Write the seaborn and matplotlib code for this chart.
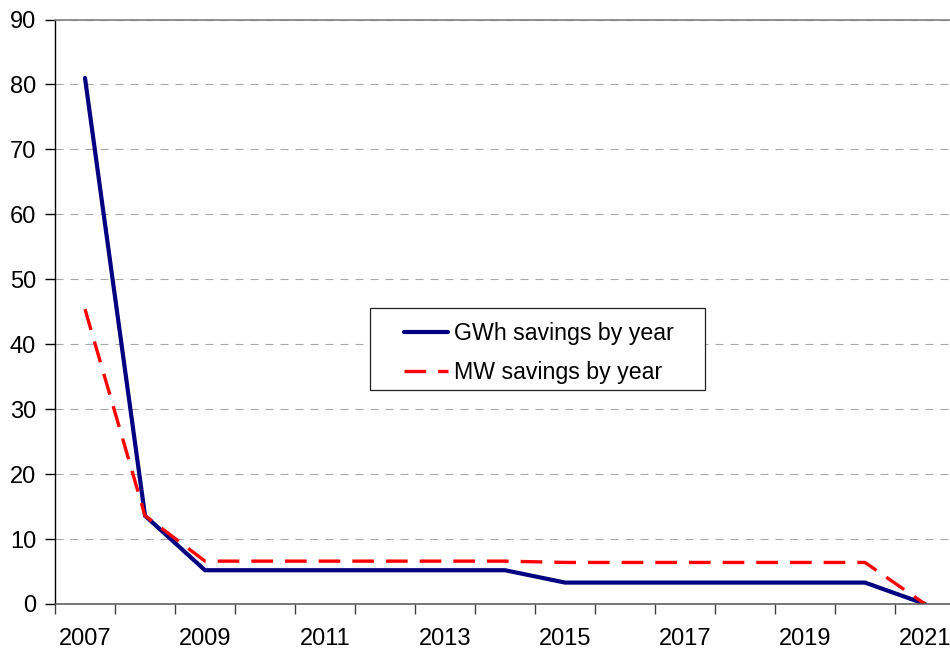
import matplotlib
matplotlib.use("Agg")
import matplotlib.pyplot as plt
import seaborn as sns
from matplotlib.patches import Rectangle

# Yearly savings series
years = list(range(2007, 2022))
gwh_savings = [81.0, 13.6, 5.2, 5.2, 5.2, 5.2, 5.2, 5.2, 3.3, 3.3, 3.3, 3.3, 3.3, 3.3, 0.0]
mw_savings = [45.4, 13.6, 6.6, 6.6, 6.6, 6.6, 6.6, 6.6, 6.4, 6.4, 6.4, 6.4, 6.4, 6.4, 0.0]
series_names = ["GWh savings by year", "MW savings by year"]
y_ticks = list(range(0, 100, 10))
labelled_years = years[::2]

sns.set_style("white")
plt.rcParams["font.family"] = ["Liberation Sans", "DejaVu Sans"]
plt.rcParams["text.color"] = "black"
plt.rcParams["xtick.labelcolor"] = "black"
plt.rcParams["ytick.labelcolor"] = "black"

W, H = 950, 651
fig = plt.figure(figsize=(W / 100, H / 100), dpi=100)
ax = fig.add_axes([55 / W, 47 / H, 900 / W, 584.5 / H])

sns.lineplot(x=years, y=gwh_savings, color="#000080", linewidth=3.0,
             label=series_names[0], ax=ax, solid_joinstyle="round")
sns.lineplot(x=years, y=mw_savings, color="#ff0000", linewidth=2.4,
             linestyle=(0, (6.5, 3.6)), label=series_names[1], ax=ax,
             dash_joinstyle="round")

# Axes ranges and ticks
ax.set_xlim(years[0] - 0.5, years[-1] + 0.5)
ax.set_ylim(y_ticks[0], y_ticks[-1])
ax.set_yticks(y_ticks)
ax.set_yticklabels([str(v) for v in y_ticks])
ax.set_xticks([y - 0.5 for y in years] + [years[-1] + 0.5])
ax.set_xticklabels([])
ax.set_xticks(labelled_years, minor=True)
ax.set_xticklabels([str(y) for y in labelled_years], minor=True)
ax.set_xlabel("")
ax.set_ylabel("")

ax.tick_params(axis="y", which="major", direction="out", length=7, width=1,
               color="#000000", pad=6.5, labelsize=17, labelcolor="black", left=True)
ax.tick_params(axis="x", which="major", direction="out", length=7, width=1,
               color="#404040", bottom=True)
ax.tick_params(axis="x", which="minor", length=0, pad=17, labelsize=17,
               labelcolor="black")

# Horizontal dashed gridlines
ax.yaxis.grid(True, color="#a8a8a8", linewidth=0.8, linestyle=(0, (7.2, 6.3)))
ax.xaxis.grid(False)
ax.set_axisbelow(True)

for side in ["left", "bottom", "top", "right"]:
    ax.spines[side].set_visible(True)
ax.spines["left"].set_color("#000000")
ax.spines["left"].set_linewidth(1.0)
ax.spines["bottom"].set_color("#606060")
ax.spines["bottom"].set_linewidth(1.2)
ax.spines["top"].set_color("#808080")
ax.spines["top"].set_linewidth(1.2)
ax.spines["right"].set_visible(False)

# Legend with a framed white box behind it
leg = ax.legend(loc="center", bbox_to_anchor=(538.5 / W, 1 - 353 / H),
                bbox_transform=fig.transFigure, frameon=False, fontsize=16.7,
                handlelength=1.9, handletextpad=0.25, labelspacing=0.7)
for t in leg.get_texts():
    t.set_color("black")
leg.set_zorder(6)
frame = Rectangle((370 / W, 1 - 390 / H), 335 / W, 82 / H,
                  transform=fig.transFigure, facecolor="white",
                  edgecolor="#202020", linewidth=0.9, zorder=5, clip_on=False)
ax.add_artist(frame)

fig.savefig("out.png", dpi=100)
